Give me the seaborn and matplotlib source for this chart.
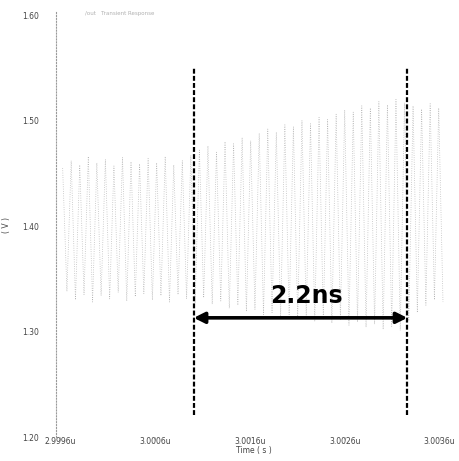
import matplotlib
matplotlib.use("Agg")
import matplotlib.pyplot as plt
import seaborn as sns
import pandas as pd

# ---- data (time in ns, voltage in V) ----
peak_t = [2999.63, 2999.72, 2999.81, 2999.90, 2999.99, 3000.08, 3000.17, 3000.26,
          3000.35, 3000.44, 3000.53, 3000.62, 3000.71, 3000.80, 3000.89, 3000.98,
          3001.07, 3001.16, 3001.25, 3001.34, 3001.43, 3001.52, 3001.61, 3001.70,
          3001.79, 3001.88, 3001.97, 3002.06, 3002.15, 3002.24, 3002.33, 3002.42,
          3002.51, 3002.60, 3002.69, 3002.78, 3002.87, 3002.96, 3003.05, 3003.14,
          3003.23, 3003.32, 3003.41, 3003.50, 3003.59]
peak_v = [1.455, 1.462, 1.458, 1.466, 1.460, 1.463, 1.457, 1.465, 1.461, 1.459,
          1.464, 1.460, 1.466, 1.458, 1.462, 1.467, 1.472, 1.476, 1.470, 1.480,
          1.478, 1.484, 1.481, 1.488, 1.492, 1.489, 1.496, 1.494, 1.500, 1.497,
          1.503, 1.501, 1.506, 1.510, 1.508, 1.514, 1.512, 1.518, 1.515, 1.520,
          1.517, 1.514, 1.511, 1.516, 1.512]
trough_t = [2999.675, 2999.765, 2999.855, 2999.945, 3000.035, 3000.125, 3000.215, 3000.305,
            3000.395, 3000.485, 3000.575, 3000.665, 3000.755, 3000.845, 3000.935, 3001.025,
            3001.115, 3001.205, 3001.295, 3001.385, 3001.475, 3001.565, 3001.655, 3001.745,
            3001.835, 3001.925, 3002.015, 3002.105, 3002.195, 3002.285, 3002.375, 3002.465,
            3002.555, 3002.645, 3002.735, 3002.825, 3002.915, 3003.005, 3003.095, 3003.185,
            3003.275, 3003.365, 3003.455, 3003.545, 3003.635]
trough_v = [1.338, 1.330, 1.335, 1.328, 1.334, 1.331, 1.337, 1.329, 1.333, 1.336,
            1.330, 1.334, 1.328, 1.335, 1.331, 1.327, 1.332, 1.326, 1.329, 1.322,
            1.325, 1.319, 1.321, 1.316, 1.318, 1.314, 1.316, 1.312, 1.315, 1.310,
            1.312, 1.308, 1.311, 1.306, 1.309, 1.304, 1.307, 1.302, 1.305, 1.301,
            1.310, 1.318, 1.325, 1.330, 1.328]

marker_t = [3001.01, 3003.26]          # dashed marker positions (ns)
marker_label = "2.2ns"

x_ticks = [2999.6, 3000.6, 3001.6, 3002.6, 3003.6]
x_tick_labels = ["2.9996u", "3.0006u", "3.0016u", "3.0026u", "3.0036u"]
y_ticks = [1.20, 1.30, 1.40, 1.50, 1.60]
y_tick_labels = ["1.20", "1.30", "1.40", "1.50", "1.60"]

wave = pd.concat([
    pd.DataFrame({"t": peak_t, "v": peak_v}),
    pd.DataFrame({"t": trough_t, "v": trough_v}),
]).sort_values("t").reset_index(drop=True)

# ---- figure ----
sns.set_theme(style="white")
fig = plt.figure(figsize=(4.59, 4.61), dpi=100)
W, H = 459, 461
ax_left, ax_right, ax_top, ax_bot = 56, 452, 12, 437
ax = fig.add_axes([ax_left / W, 1 - ax_bot / H, (ax_right - ax_left) / W, (ax_bot - ax_top) / H])

sns.lineplot(data=wave, x="t", y="v", ax=ax, estimator=None, sort=True,
             color="#b4b4b4", linewidth=0.55, linestyle=(0, (1, 2)))

ax.set_xlim(2999.56, 3003.73)
ax.set_ylim(1.20, 1.603)

# dashed markers
ax.vlines(marker_t, 1.221, 1.551, colors="black", linewidth=1.6, linestyles=(0, (2.2, 1.0)))

# double arrow and label
arrow_y = 1.313
ax.annotate("", xy=(marker_t[1], arrow_y), xytext=(marker_t[0], arrow_y),
            arrowprops=dict(arrowstyle="<|-|>", color="black", lw=2.6,
                            mutation_scale=16, shrinkA=0, shrinkB=0))
ax.text(3002.20, 1.327, marker_label,
        ha="center", va="baseline", fontsize=17, fontweight="bold", color="black")

# axes styling
for s in ["top", "right", "bottom"]:
    ax.spines[s].set_visible(False)
ax.spines["left"].set_color("#9a9a9a")
ax.spines["left"].set_linestyle(":")
ax.spines["left"].set_linewidth(0.8)

ax.set_xticks(x_ticks)
ax.set_xticklabels(x_tick_labels)
ax.set_yticks(y_ticks)
ax.set_yticklabels(y_tick_labels)
ax.tick_params(axis="x", length=2, width=0.5, color="#888888", labelsize=5.5,
               labelcolor="#444444", pad=-2, bottom=True)
ax.tick_params(axis="y", length=0, labelsize=5.5, labelcolor="#444444", pad=12)

ax.set_xlabel("Time ( s )", fontsize=5.5, color="#444444", labelpad=0)
ax.set_ylabel("( V )", fontsize=5.5, color="#444444", labelpad=8)

fig.text(85 / W, 1 - 14 / H, "/out   Transient Response", fontsize=4,
         color="#b0b0b0", va="center", ha="left")

fig.savefig("out.png", dpi=100, facecolor="white")
